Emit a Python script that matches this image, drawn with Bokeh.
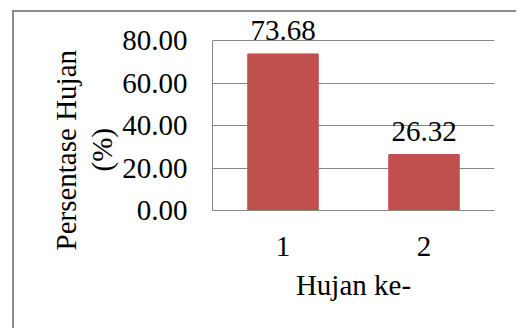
from bokeh.embed import file_html
from bokeh.models import (ColumnDataSource, FixedTicker, LabelSet,
                          NumeralTickFormatter, Range1d, Title)
from bokeh.plotting import figure
from bokeh.resources import INLINE

# Rain event index and share of rainfall (%)
hujan_ke = ["1", "2"]
persentase = [73.68, 26.32]
y_ticks = [0, 20, 40, 60, 80]

FONT = "Liberation Serif"
FONT_SIZE = "29px"
GRID = "#868686"
BAR = "#C0504D"

# frame: 198 px tall, of which the 0..80 band takes the lower 170 px;
# the headroom above 80 keeps the value labels inside the frame
FRAME_H = 198
Y_MAX = y_ticks[-1] * FRAME_H / 170

src = ColumnDataSource(dict(
    x=hujan_ke, top=persentase, label=[f"{v:.2f}" for v in persentase]))

# canvas sits inside a 2px grey frame drawn with CSS
p = figure(
    width=504, height=318,
    x_range=hujan_ke, y_range=Range1d(0, Y_MAX),
    output_backend="svg", toolbar_location=None,
    min_border_left=198, min_border_right=24,
    min_border_top=0, min_border_bottom=120,
)
p.styles = {
    "margin-left": "12px", "margin-top": "10px",
    "border-left": "2px solid #8c8c8c", "border-top": "2px solid #8c8c8c",
}
p.outline_line_color = None
p.background_fill_color = "white"
p.border_fill_color = "white"

p.vbar(x="x", top="top", width=0.5, fill_color=BAR, line_color=BAR, source=src)

# value labels above the bars
p.add_layout(LabelSet(x="x", y="top", text="label", source=src,
                      text_font=FONT, text_font_size=FONT_SIZE, text_color="black",
                      text_align="center", text_baseline="alphabetic", y_offset=14))

# y axis
p.yaxis.ticker = FixedTicker(ticks=y_ticks)
p.yaxis.bounds = (y_ticks[0], y_ticks[-1])
p.yaxis.formatter = NumeralTickFormatter(format="0.00")
p.yaxis.major_label_text_font = FONT
p.yaxis.major_label_text_font_size = FONT_SIZE
p.yaxis.major_label_text_color = "black"
p.yaxis.major_label_standoff = 25
p.yaxis.axis_line_color = GRID
p.yaxis.major_tick_out = 0
p.yaxis.major_tick_in = 0
p.yaxis.major_tick_line_color = None
p.yaxis.minor_tick_line_color = None

# x axis
p.xaxis.axis_label = "Hujan ke-"
p.xaxis.axis_label_text_font = FONT
p.xaxis.axis_label_text_font_size = FONT_SIZE
p.xaxis.axis_label_text_font_style = "normal"
p.xaxis.axis_label_text_color = "black"
p.xaxis.axis_label_standoff = 10
p.xaxis.major_label_text_font = FONT
p.xaxis.major_label_text_font_size = FONT_SIZE
p.xaxis.major_label_text_color = "black"
p.xaxis.major_label_standoff = 26
p.xaxis.axis_line_color = GRID
p.xaxis.major_tick_out = 0
p.xaxis.major_tick_in = 0
p.xaxis.major_tick_line_color = None
p.xaxis.minor_tick_line_color = None

p.xgrid.grid_line_color = None
p.ygrid.grid_line_color = GRID
p.ygrid.grid_line_width = 1

# two-line y axis title (inner line first)
for txt, off, gap in (("(%)", 39, 4), ("Persentase Hujan", -40, 0)):
    p.add_layout(Title(text=txt, align="left", offset=off, standoff=gap,
                       text_font=FONT, text_font_size=FONT_SIZE,
                       text_font_style="normal", text_color="black"), "left")

open("out.html", "w").write(file_html(p, INLINE))
